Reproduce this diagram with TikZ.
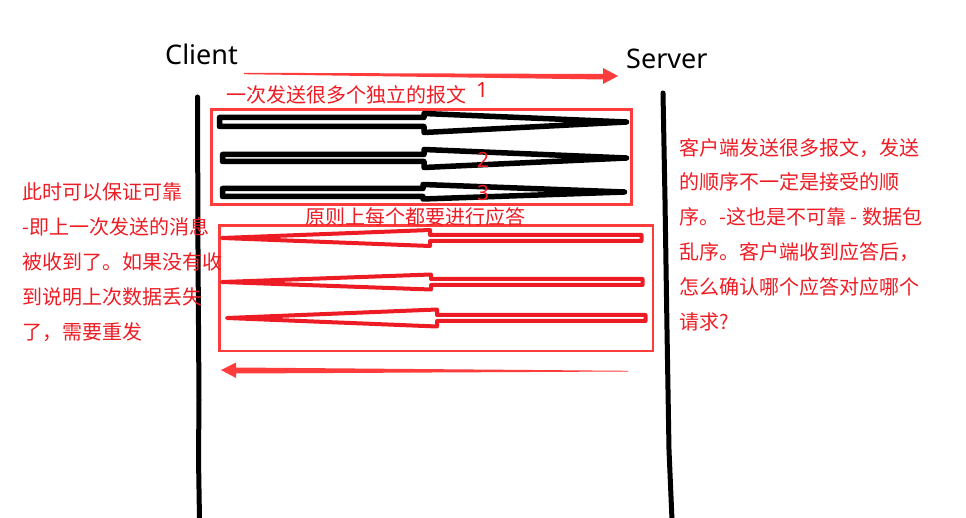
\documentclass[tikz,border=0pt]{standalone}
\usepackage{fontspec}
\setsansfont{Noto Sans}
\newfontfamily\cjk{Noto Sans CJK SC}
\usetikzlibrary{shapes.geometric, arrows}
\definecolor{paintRed}{RGB}{237,28,36}
\definecolor{boxRed}{RGB}{255,60,60}
\tikzstyle{nameText} = [text=black, font=\sffamily\fontsize{27}{30}\selectfont,
	inner sep=0pt, anchor=base west]
\tikzstyle{noteText} = [text=paintRed, font=\cjk\fontsize{20}{34.8}\selectfont,
	inner sep=0pt, align=left]
\tikzstyle{numText} = [text=paintRed, font=\sffamily\fontsize{21}{24}\selectfont, inner sep=0pt]
\tikzstyle{lifeLine} = [line width=5pt, draw=black, line cap=round, line join=round]
\tikzstyle{groupBox} = [draw=boxRed, line width=2.6pt]
\tikzstyle{sendArrow} = [draw=black, line width=5.5pt, line join=round, fill=white]
\tikzstyle{ackArrow} = [draw=paintRed, line width=4pt, line join=round, fill=white]
\tikzstyle{flatArrow} = [fill=boxRed, draw=none]

\begin{document}
\begin{tikzpicture}[x=1pt, y=-1pt]
  \useasboundingbox (0,0) rectangle (966,518);
  \node (CLIENT) [nameText] at (165,65) {Client};
  \node (SERVER) [nameText] at (626,69) {Server};

  % lifelines
  \draw [lifeLine] (197.5,97) -- (198,250) -- (199,400) -- (198.5,458) -- (199.5,520);
  \draw [lifeLine] (663,93) -- (665,200) -- (667,330) -- (669,450) -- (672,520);

  \fill [flatArrow] (244,72.8) -- (603,74) -- (603,68) -- (618,76) -- (603,84) -- (603,79.5) -- (244,74.2) -- cycle;

  \draw [groupBox] (211.3,109.3) rectangle (631.7,204.7);
  \draw [groupBox] (219.3,225.3) rectangle (653,351);

  % requests
  \draw [sendArrow] (219.5,117.5) -- (424,117.5) -- (424,113.5) -- (626.5,122) -- (424,132.5) -- (424,126.5) -- (219.5,126.5) -- cycle;
  \draw [sendArrow] (222.5,154.5) -- (424,154.5) -- (424,149.5) -- (626.5,158) -- (424,167.5) -- (424,161.5) -- (222.5,161.5) -- cycle;
  \draw [sendArrow] (222.5,188.5) -- (423,188.5) -- (423,184.5) -- (624.5,192) -- (423,199) -- (423,196.5) -- (222.5,196.5) -- cycle;

  % answers
  \draw [ackArrow] (641.5,235) -- (430,235) -- (430,230) -- (222,238) -- (430,246) -- (430,241) -- (641.5,241) -- cycle;
  \draw [ackArrow] (642.5,279) -- (431,279) -- (431,274.5) -- (222,282) -- (431,289.5) -- (431,285) -- (642.5,285) -- cycle;
  \draw [ackArrow] (645.5,315) -- (437,315) -- (437,309.5) -- (227,318) -- (437,326.5) -- (437,321) -- (645.5,321) -- cycle;

  \fill [flatArrow] (628,370.8) -- (236,367.5) -- (236,362.5) -- (221,370) -- (236,378) -- (236,373.5) -- (628,371.5) -- cycle;

  \node (SENDTXT) [noteText] at (346,95) {一次发送很多个独立的报文};
  \node (ONE) [numText] at (482,90) {1};
  \node (TWO) [numText] at (483,160) {2};
  \node (THREE) [numText] at (483,193.5) {3};
  \node (ACKTXT) [noteText] at (415,217) {原则上每个都要进行应答};
  \node (LEFTNOTE) [noteText, anchor=north west] at (22,183) {此时可以保证可靠\\-即上一次发送的消息\\被收到了。如果没有收\\到说明上次数据丢失\\了，需要重发};
  \node (RIGHTNOTE) [noteText, anchor=north west] at (679,138) {客户端发送很多报文，发送\\的顺序不一定是接受的顺\\序。-这也是不可靠 - 数据包\\乱序。客户端收到应答后，\\怎么确认哪个应答对应哪个\\请求?};

\end{tikzpicture}
\end{document}
